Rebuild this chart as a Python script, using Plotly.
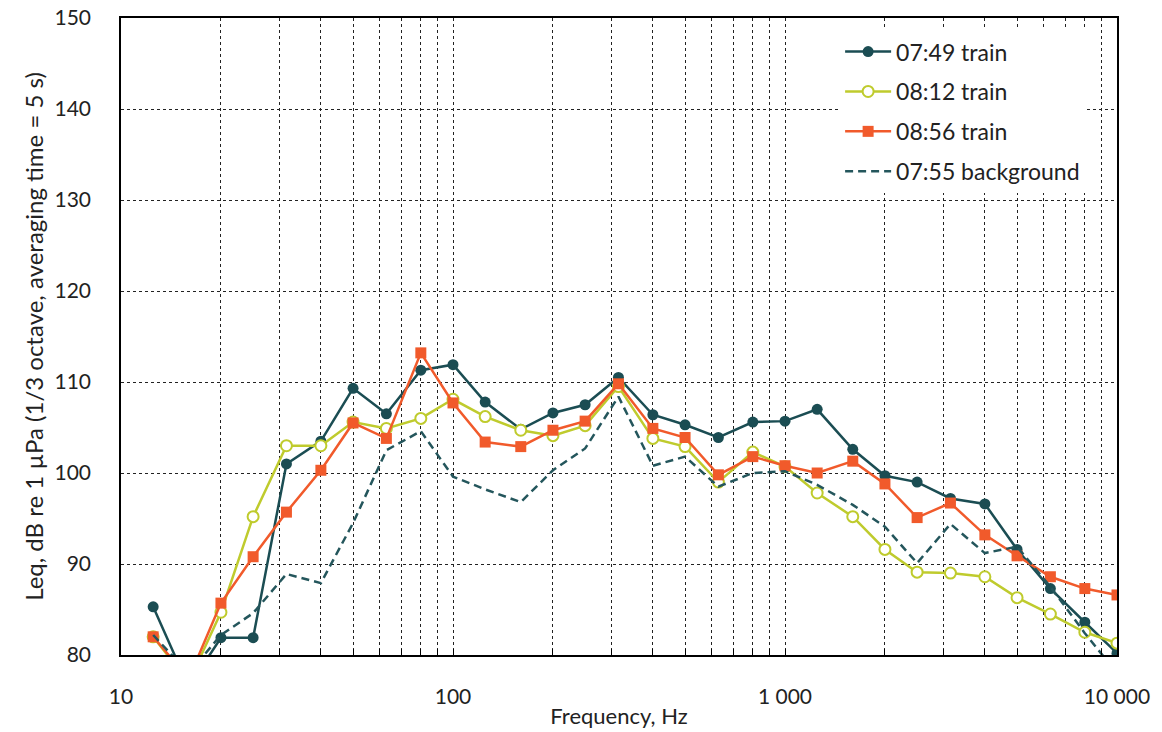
import plotly.graph_objects as go

freq = [12.5, 16, 20, 25, 31.5, 40, 50, 63, 80, 100, 125, 160, 200, 250, 315,
        400, 500, 630, 800, 1000, 1250, 1600, 2000, 2500, 3150, 4000, 5000, 6300, 8000, 10000]

train_0749 = [85.3, 76.5, 81.9, 81.9, 101.0, 103.5, 109.3, 106.5, 111.3, 111.9, 107.8, 104.8, 106.6, 107.5, 110.5,
              106.4, 105.3, 103.9, 105.6, 105.7, 107.0, 102.6, 99.7, 99.0, 97.2, 96.6, 91.6, 87.3, 83.6, 80.2]
train_0812 = [82.0, 77.0, 84.7, 95.2, 103.0, 103.0, 105.6, 104.9, 106.0, 108.1, 106.2, 104.7, 104.1, 105.2, 109.5,
              103.8, 102.9, 99.0, 102.3, 100.7, 97.8, 95.2, 91.6, 89.1, 89.0, 88.6, 86.3, 84.5, 82.5, 81.3]
train_0856 = [82.0, 77.4, 85.7, 90.8, 95.7, 100.3, 105.5, 103.8, 113.2, 107.7, 103.4, 102.9, 104.7, 105.7, 109.8,
              104.9, 103.9, 99.8, 101.8, 100.8, 100.0, 101.3, 98.8, 95.1, 96.7, 93.2, 90.9, 88.6, 87.3, 86.6]
background_0755 = [82.2, 78.0, 82.2, 84.6, 88.9, 87.9, 94.5, 102.5, 104.6, 99.6, 98.2, 96.8, 100.3, 102.7, 108.4,
                   100.8, 101.8, 98.5, 100.0, 100.2, 98.7, 96.5, 94.1, 90.1, 94.4, 91.2, 91.9, 87.5, 82.4, 78.0]

series_names = ["07:49 train", "08:12 train", "08:56 train", "07:55 background"]

x_major = [10, 100, 1000, 10000]
x_major_labels = ["10", "100", "1 000", "10 000"]
y_ticks = [80, 90, 100, 110, 120, 130, 140, 150]

DARK = "#1b4d53"
GREEN = "#bfcb2d"
ORANGE = "#f15a2b"
FONT = "Lato, Open Sans, sans-serif"

fig = go.Figure()
fig.add_trace(go.Scatter(x=freq, y=train_0749, name=series_names[0], mode="lines+markers",
                         line=dict(color=DARK, width=2.5),
                         marker=dict(symbol="circle", size=11, color=DARK),
                         legendgroup="a"))
fig.add_trace(go.Scatter(x=freq, y=train_0812, name=series_names[1], mode="lines+markers",
                         line=dict(color=GREEN, width=2.5),
                         marker=dict(symbol="circle", size=11, color="white", line=dict(color=GREEN, width=2)),
                         legendgroup="b"))
fig.add_trace(go.Scatter(x=freq, y=train_0856, name=series_names[2], mode="lines+markers",
                         line=dict(color=ORANGE, width=2.5),
                         marker=dict(symbol="square", size=11, color=ORANGE),
                         legendgroup="c"))
fig.add_trace(go.Scatter(x=freq, y=background_0755, name=series_names[3], mode="lines",
                         line=dict(color="#24565c", width=2.5, dash="8px,5px"),
                         legendgroup="d"))

# tick positions: every 1..9 multiple per decade, labels only at decades
tickvals = []
ticktext = []
for d in [10, 100, 1000]:
    for m in range(1, 10):
        v = d * m
        tickvals.append(v)
        ticktext.append(x_major_labels[x_major.index(v)] if v in x_major else "")
tickvals.append(10000)
ticktext.append("10 000")

fig.update_layout(
    width=1162, height=732,
    margin=dict(l=121, r=45, t=18, b=77),
    paper_bgcolor="white", plot_bgcolor="white",
    font=dict(family=FONT, color="#222"),
    showlegend=True,
    legend=dict(x=0.722, y=0.981, xanchor="left", yanchor="top",
                font=dict(size=23, family=FONT, color="#222"),
                bgcolor="rgba(255,255,255,1)", tracegroupgap=7, itemwidth=46),
    xaxis=dict(type="log", range=[1, 4], tickmode="array", tickvals=tickvals, ticktext=ticktext,
               showgrid=True, gridcolor="#222", griddash="dot", gridwidth=1,
               showline=True, linecolor="black", linewidth=1.5, mirror=True,
               ticks="inside", ticklen=6, tickcolor="black", ticklabelstandoff=22,
               tickfont=dict(size=21, family=FONT),
               title=dict(text="Frequency, Hz", font=dict(size=22, family=FONT), standoff=2),
               zeroline=False, automargin=False),
    yaxis=dict(range=[80, 150], tickmode="array", tickvals=y_ticks,
               showgrid=True, gridcolor="#222", griddash="dot", gridwidth=1,
               showline=True, linecolor="black", linewidth=1.5, mirror=True,
               ticks="", ticklabelstandoff=24, tickfont=dict(size=21, family=FONT),
               title=dict(text="Leq, dB re 1 µPa (1/3 octave, averaging time = 5 s)",
                          font=dict(size=24, family=FONT), standoff=4),
               zeroline=False, automargin=False),
)

fig.write_html("out.html", config={"displayModeBar": False},
               post_script="document.body.style.margin='0';")
